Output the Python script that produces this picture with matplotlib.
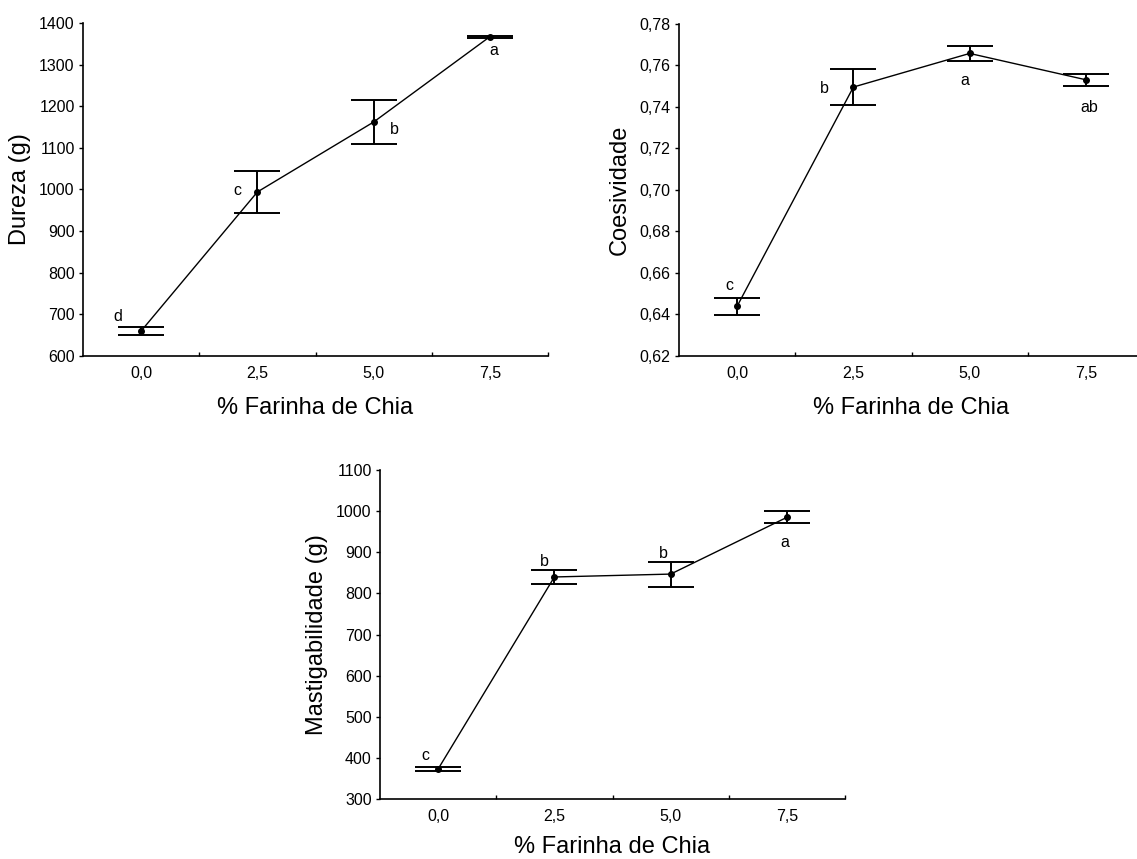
import matplotlib
matplotlib.use("Agg")
import matplotlib.pyplot as plt
import numpy as np
from matplotlib.ticker import FixedLocator, FuncFormatter

plt.rcParams['font.family'] = ['Liberation Sans', 'DejaVu Sans']

categorias = ["0,0", "2,5", "5,0", "7,5"]

dureza = [660, 994, 1162, 1367]
dureza_err = [9.5, 51, 52, 2.5]
dureza_letras = ["d", "c", "b", "a"]
dureza_letras_pos = [(-0.2, 695), (-0.17, 997), (0.18, 1143), (0.03, 1334)]

coesividade = [0.644, 0.7496, 0.7658, 0.7531]
coesividade_err = [0.0041, 0.0087, 0.0036, 0.0029]
coesividade_letras = ["c", "b", "a", "ab"]
coesividade_letras_pos = [(-0.07, 0.6538), (-0.25, 0.749), (-0.04, 0.7528), (0.03, 0.7398)]

mastig = [373, 840, 847, 985]
mastig_err = [5, 17.5, 30.5, 14.5]
mastig_letras = ["c", "b", "b", "a"]
mastig_letras_pos = [(-0.11, 405), (-0.09, 877), (-0.06, 896), (-0.02, 925)]

DPI = 100
fig = plt.figure(figsize=(11.37, 8.59), dpi=DPI)

AX_W = 0.409
CAP = 0.2 * (AX_W * 11.37 * 72) / 4  # cap half width = 0.2 category units, in points


def painel(rect, medias, erros, letras, letras_pos, ylim, yticks, ylabel, fmt, xpad=12):
    ax = fig.add_axes(rect)
    x = np.arange(len(medias))
    ax.plot(x, medias, color="black", lw=1.0, marker="o", ms=4, zorder=3)
    ax.errorbar(x, medias, yerr=erros, fmt="none", ecolor="black",
                elinewidth=1.4, capsize=CAP, capthick=1.4, zorder=2)
    for (dx, ty), txt, xi in zip(letras_pos, letras, x):
        ax.text(xi + dx, ty, txt, ha="center", va="center", fontsize=11.5)
    ax.set_xlim(-0.5, len(medias) - 0.5)
    ax.set_ylim(*ylim)
    ax.set_xticks(x)
    ax.set_xticklabels(categorias, fontsize=11.5)
    ax.xaxis.set_minor_locator(FixedLocator(np.arange(0.5, len(medias), 1.0)))
    ax.tick_params(axis="x", which="major", length=0, pad=7)
    ax.tick_params(axis="x", which="minor", direction="in", length=3, width=1)
    ax.set_yticks(yticks)
    ax.yaxis.set_major_formatter(FuncFormatter(fmt))
    ax.tick_params(axis="y", direction="out", length=3, width=1, labelsize=11.5, pad=3)
    for s in ["top", "right"]:
        ax.spines[s].set_visible(False)
    for s in ["left", "bottom"]:
        ax.spines[s].set_linewidth(1.2)
    ax.set_xlabel("% Farinha de Chia", fontsize=17, labelpad=xpad)
    ax.set_ylabel(ylabel, fontsize=17, labelpad=6)
    return ax


painel([0.0730, 0.5856, AX_W, 0.3877], dureza, dureza_err, dureza_letras,
       dureza_letras_pos, (600, 1400), np.arange(600, 1401, 100), "Dureza (g)",
       lambda v, p: "%d" % v)

painel([0.5972, 0.5856, AX_W, 0.3865], coesividade, coesividade_err, coesividade_letras,
       coesividade_letras_pos, (0.62, 0.78), np.arange(0.62, 0.7801, 0.02), "Coesividade",
       lambda v, p: ("%.2f" % v).replace(".", ","))

painel([0.3342, 0.0698, AX_W, 0.3830], mastig, mastig_err, mastig_letras,
       mastig_letras_pos, (300, 1100), np.arange(300, 1101, 100), "Mastigabilidade (g)",
       lambda v, p: "%d" % v, xpad=9)

fig.savefig("out.png", dpi=DPI)
